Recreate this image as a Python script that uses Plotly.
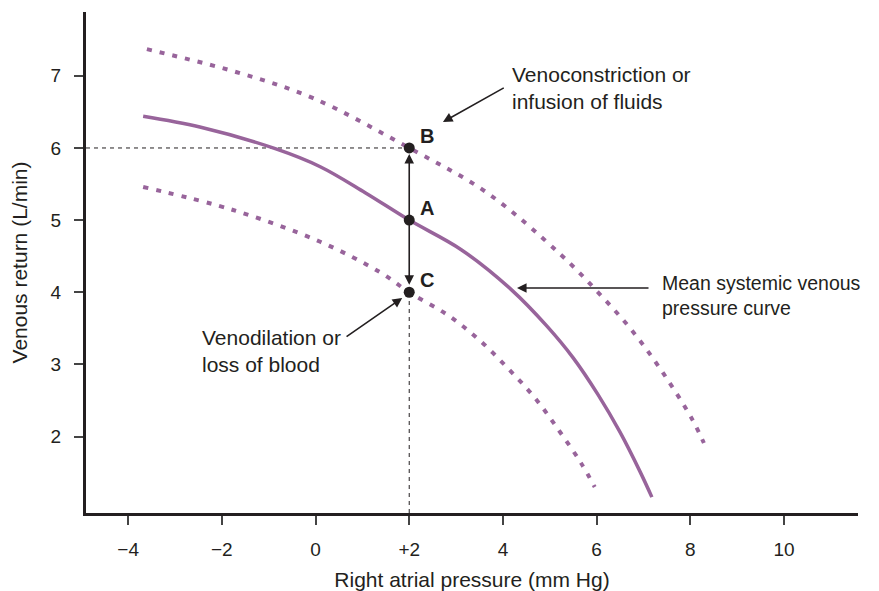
import plotly.graph_objects as go

# --- Curves (right atrial pressure, venous return) ---
normal_x = [-3.68, -2.47, -0.86, 0.10, 1.06, 2.0, 3.11, 4.19, 4.94, 5.50, 6.03, 6.50, 6.93, 7.18]
normal_y = [6.44, 6.29, 5.99, 5.74, 5.38, 5.0, 4.59, 4.03, 3.53, 3.09, 2.58, 2.06, 1.51, 1.16]

high_x = [-3.6, -1.68, -0.05, 2.0, 3.66, 5.22, 6.03, 6.78, 7.44, 8.04, 8.29]
high_y = [7.37, 7.05, 6.69, 6.0, 5.38, 4.53, 4.0, 3.45, 2.86, 2.24, 1.91]

low_x = [-3.68, -1.76, 0.10, 1.37, 2.0, 2.83, 3.51, 4.13, 4.69, 5.2, 5.67, 5.96]
low_y = [5.46, 5.14, 4.70, 4.28, 4.0, 3.68, 3.33, 2.93, 2.53, 2.08, 1.63, 1.30]

# --- Operating points ---
point_labels = ["B", "A", "C"]
point_x = [2.0, 2.0, 2.0]
point_y = [6.0, 5.0, 4.0]

# --- Axes ---
x_tickvals = [-4, -2, 0, 2, 4, 6, 8, 10]
x_ticktext = ["\u22124", "\u22122", "0", "+2", "4", "6", "8", "10"]
y_tickvals = [2, 3, 4, 5, 6, 7]
x_range = [-4.9, 11.58]
y_range = [0.94, 7.885]

PURPLE = "#98649b"
INK = "#231f20"
FONT = "Liberation Sans, Arial, Helvetica, sans-serif"

fig = go.Figure()

# dashed guide lines to B and C
fig.add_trace(go.Scatter(
    x=[x_range[0], point_x[0]], y=[point_y[0], point_y[0]],
    mode="lines", line=dict(color=INK, width=1, dash="4px,4px"),
    hoverinfo="skip"
))
fig.add_trace(go.Scatter(
    x=[point_x[2], point_x[2]], y=[y_range[0], point_y[2]],
    mode="lines", line=dict(color=INK, width=1, dash="4px,4px"),
    hoverinfo="skip"
))

# curves
fig.add_trace(go.Scatter(
    x=high_x, y=high_y, mode="lines", line_shape="spline",
    line=dict(color=PURPLE, width=4, dash="5px,8px")
))
fig.add_trace(go.Scatter(
    x=low_x, y=low_y, mode="lines", line_shape="spline",
    line=dict(color=PURPLE, width=4, dash="5px,8px")
))
fig.add_trace(go.Scatter(
    x=normal_x, y=normal_y, mode="lines", line_shape="spline",
    line=dict(color=PURPLE, width=3.5)
))

# points
fig.add_trace(go.Scatter(
    x=point_x, y=point_y, mode="markers",
    marker=dict(color=INK, size=11)
))

# letters next to points
for lab, px, py in zip(point_labels, point_x, point_y):
    fig.add_annotation(
        x=px, y=py, text="<b>" + lab + "</b>", showarrow=False,
        xshift=18, yshift=12, font=dict(size=20, color=INK, family=FONT)
    )

# double headed arrow between C and B
fig.add_annotation(
    x=point_x[0], y=point_y[0], ax=point_x[2], ay=point_y[2],
    xref="x", yref="y", axref="x", ayref="y",
    text="", showarrow=True, arrowside="end+start",
    arrowhead=2, startarrowhead=2, arrowsize=1.2, startarrowsize=1.2,
    arrowwidth=1.6, arrowcolor=INK, standoff=6, startstandoff=6
)

# pointer arrows
arrows = [
    (2.72, 6.36, 4.05, 6.845),
    (1.85, 3.92, 0.63, 3.37),
    (4.30, 4.06, 7.14, 4.06),
]
for x, y, ax, ay in arrows:
    fig.add_annotation(
        x=x, y=y, ax=ax, ay=ay, xref="x", yref="y", axref="x", ayref="y",
        text="", showarrow=True, arrowhead=2, arrowsize=1.2,
        arrowwidth=1.6, arrowcolor=INK
    )

# captions
captions = [
    (4.15, 6.83, "Venoconstriction or<br>infusion of fluids", 21),
    (-2.47, 3.19, "Venodilation or<br>loss of blood", 21),
    (7.35, 3.96, "Mean systemic venous<br>pressure curve", 19.5),
]
for x, y, txt, size in captions:
    fig.add_annotation(
        x=x, y=y, text=txt, showarrow=False, xanchor="left", yanchor="middle",
        align="left", font=dict(size=size, color=INK, family=FONT)
    )

# the page body adds an 8px margin, so the figure is sized to fit the window
fig.update_layout(
    width=871, height=583,
    showlegend=False,
    plot_bgcolor="white",
    paper_bgcolor="white",
    font=dict(family=FONT, size=19, color=INK),
    margin=dict(l=78, r=21, t=4, b=78),
    xaxis=dict(
        range=x_range, tickvals=x_tickvals, ticktext=x_ticktext,
        showgrid=False, zeroline=False,
        showline=True, linewidth=3, linecolor=INK,
        ticks="outside", ticklen=9, tickwidth=1.5, tickcolor="#444",
        ticklabelstandoff=8,
        title=dict(text="Right atrial pressure (mm Hg)", font=dict(size=21), standoff=14),
    ),
    yaxis=dict(
        range=y_range, tickvals=y_tickvals,
        showgrid=False, zeroline=False,
        showline=True, linewidth=3, linecolor=INK,
        ticks="outside", ticklen=9, tickwidth=1.5, tickcolor="#444",
        ticklabelstandoff=9,
        title=dict(text="Venous return (L/min)", font=dict(size=21), standoff=18),
    ),
)

fig.write_html("out.html")
